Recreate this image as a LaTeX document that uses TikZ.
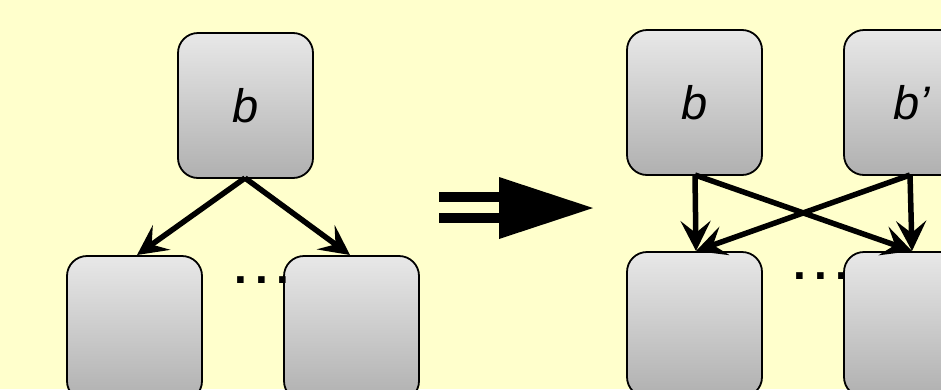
\documentclass[tikz,border=0pt]{standalone}
\usepackage{fontspec}
\setmainfont{Liberation Sans}
\usetikzlibrary{arrows.meta}
\definecolor{paper}{HTML}{FFFFCC}
\definecolor{boxtop}{HTML}{E8E8E8}
\definecolor{boxbot}{HTML}{B0B0B0}
\tikzset{
  block/.style={draw=black, line width=1.8pt, rounded corners=20pt,
    top color=boxtop, bottom color=boxbot, minimum width=135pt,
    minimum height=145pt, inner sep=0pt, font=\fontsize{47}{47}\selectfont\itshape},
  link/.style={line width=5.5pt, -{Stealth[length=30pt, width=30pt, inset=12pt]}},
  dotrow/.style={font=\fontsize{46}{46}\selectfont\bfseries, inner sep=0pt}
}
\begin{document}
\begin{tikzpicture}[x=1pt, y=-1pt]
  \useasboundingbox (0,0) rectangle (941,389);
  \clip (0,0) rectangle (941,389);
  \fill[paper] (0,0) rectangle (941,389);

  % before: one block with its children
  \node[block] (b)  at (245.5,105.5) {b};
  \node[block] (c1) at (134.5,328.5) {};
  \node[block] (c2) at (351.5,328.5) {};
  \coordinate (bs) at (245,178);
  \coordinate (c1t) at (137,255);
  \coordinate (c2t) at (350,255);
  \draw[link] (bs) -- (c1t);
  \draw[link] (bs) -- (c2t);
  \node[dotrow, anchor=base] (d1) at (262,283) {.\kern8pt.\kern8pt.};

  % transformation arrow
  \fill (439,192) rectangle (500,202);
  \fill (439,213) rectangle (500,223);
  \fill (499,177) -- (593,208) -- (499,239) -- cycle;

  % after: two blocks sharing the children
  \node[block] (r)  at (694.5,102.5) {b};
  \node[block] (rp) at (911.5,102.5) {b’};
  \node[block] (e1) at (694.5,324.5) {};
  \node[block] (e2) at (911.5,324.5) {};
  \coordinate (rs)  at (695,175);
  \coordinate (rps) at (910,175);
  \coordinate (e1t) at (696,251);
  \coordinate (e2t) at (912,251);
  \draw[link] (rs) -- (e1t);
  \draw[link] (rs) -- (e2t);
  \draw[link] (rps) -- (e2t);
  \draw[link] (rps) -- (e1t);
  \node[dotrow, anchor=base] (d2) at (821,279) {.\kern8pt.\kern8pt.};
\end{tikzpicture}
\end{document}
